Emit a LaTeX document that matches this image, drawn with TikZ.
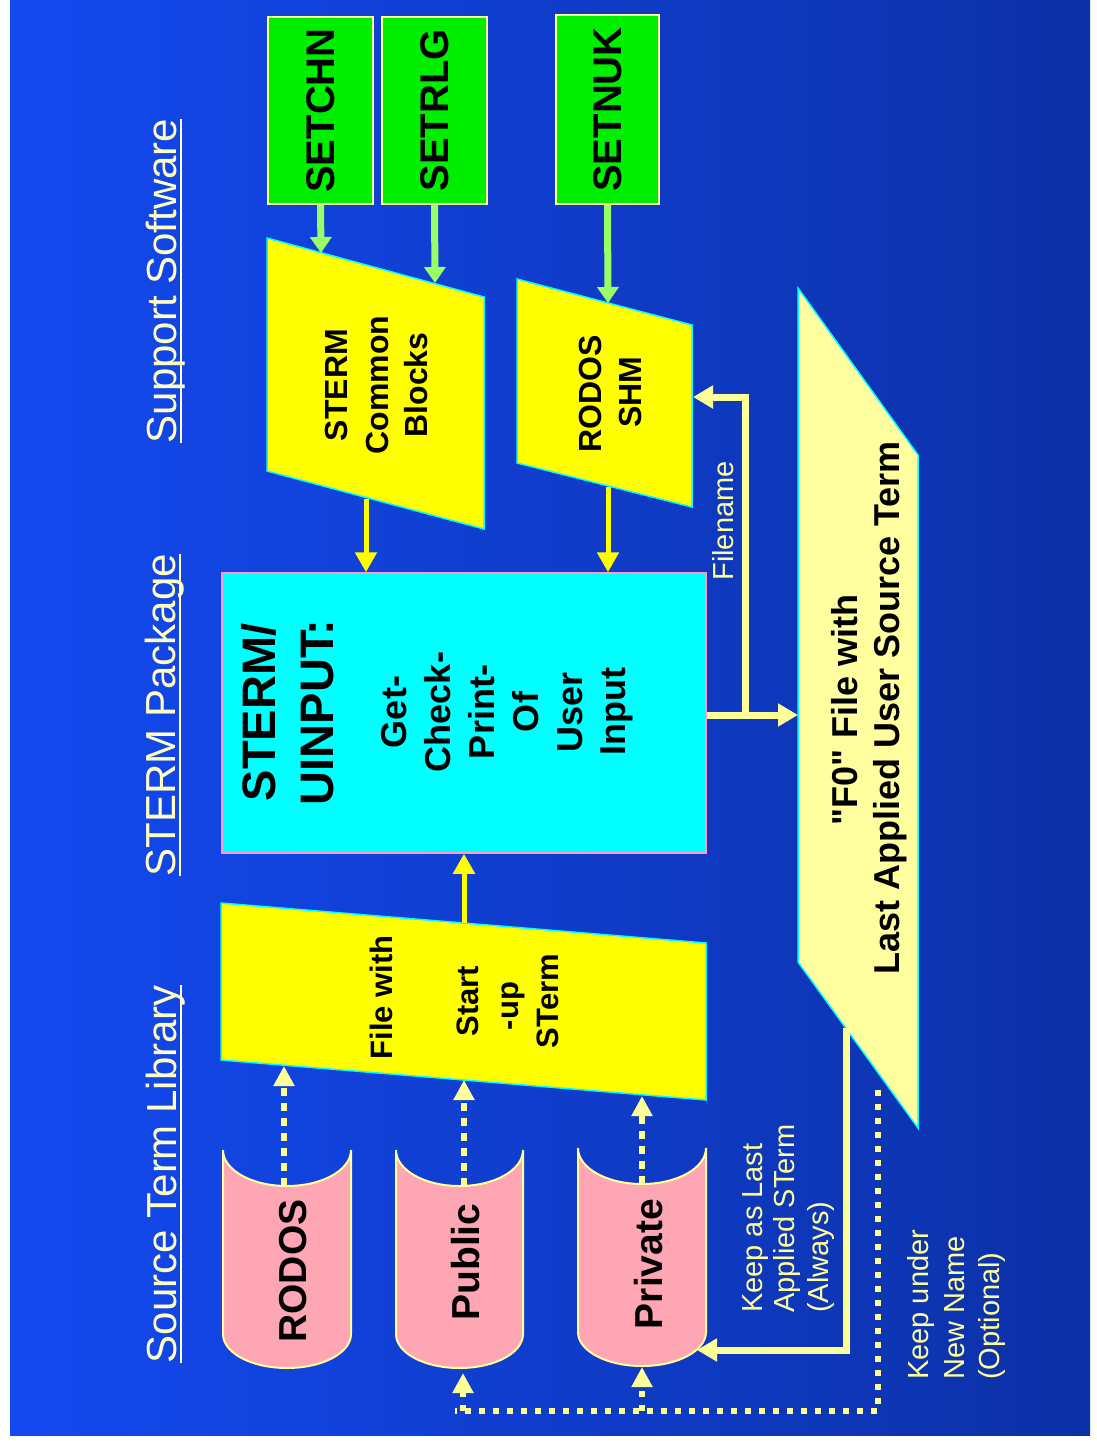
\documentclass[tikz,border=0pt]{standalone}
\usepackage{fontspec}
\setmainfont{Liberation Sans}
\usetikzlibrary{arrows.meta}
\definecolor{bgL}{HTML}{1349F0}
\definecolor{bgR}{HTML}{0C30A6}
\definecolor{gfill}{HTML}{00EE00}
\definecolor{garr}{HTML}{99FF66}
\definecolor{yfill}{HTML}{FFFF00}
\definecolor{cfill}{HTML}{00FFFF}
\definecolor{pfill}{HTML}{FFA6B4}
\definecolor{ly}{HTML}{FFFF99}
\definecolor{lyfill}{HTML}{FFFFA0}
\definecolor{hdrc}{HTML}{FFFFC4}
\definecolor{pinkedge}{HTML}{FF99CC}
\newcommand\myfs[1]{\fontsize{#1}{#1}\selectfont}
\begin{document}
\begin{tikzpicture}[x=1pt,y=-1pt,
  rt/.style={rotate=90,anchor=base,inner sep=0pt},
  rtl/.style={rotate=90,anchor=base west,inner sep=0pt},
  hdr/.style={rt,text=hdrc,font=\myfs{42}},
  lbl/.style={rtl,text=ly,font=\myfs{29}},
  blk/.style={rt,text=black,font=\bfseries\myfs{#1}},
  gbox/.style={draw=ly,line width=1.5pt,fill=gfill,inner sep=0pt,font=\bfseries\myfs{40}},
  yshape/.style={fill=yfill,draw=cfill,line width=1.5pt},
  cyl/.style={fill=pfill,draw=ly,line width=2pt},
  garrow/.style={draw=garr,line width=7pt,-{Triangle[width=21pt,length=16pt]}},
  yarrow/.style={draw=yfill,line width=5pt,-{Triangle[width=21pt,length=20pt]}},
  lyline/.style={draw=ly,line width=7pt},
  lyarrow/.style={lyline,-{Triangle[width=22pt,length=20pt]}},
  dasharrow/.style={draw=ly,line width=6pt,dash pattern=on 8pt off 7pt,-{Triangle[width=20pt,length=20pt]}},
  dotline/.style={draw=ly,line width=6pt,dash pattern=on 6pt off 8pt},
  dotarrow/.style={dotline,-{Triangle[width=20pt,length=20pt]}}
]
\useasboundingbox (0,0) rectangle (1097,1441);
\fill[white] (0,0) rectangle (1097,1441);
\shade[left color=bgL,right color=bgR] (10,0) rectangle (1090,1435);

% headers
\node[hdr] (h1) at (176,281) {Support Software};
\node[hdr] (h2) at (175,715) {STERM Package};
\node[hdr] (h3) at (176,1174) {Source Term Library};
\foreach \h in {h1,h2,h3}
  \draw[hdrc,line width=2pt] ([xshift=5pt]\h.base west) -- ([xshift=5pt]\h.base east);

% green boxes
\node[gbox,minimum width=105pt,minimum height=187pt] (setchn) at (320.5,110.5) {\rotatebox{90}{SETCHN}};
\node[gbox,minimum width=105pt,minimum height=187pt] (setrlg) at (434.5,110.5) {\rotatebox{90}{SETRLG}};
\node[gbox,minimum width=103pt,minimum height=189pt] (setnuk) at (607.5,109.5) {\rotatebox{90}{SETNUK}};

% STERM Common Blocks
\filldraw[yshape] (267,238) -- (484,297) -- (484,529) -- (267,471) -- cycle;
\node[blk=32] (cb1) at (347,385) {STERM};
\node[blk=32] (cb2) at (388,385) {Common};
\node[blk=32] (cb3) at (427,385) {Blocks};
\coordinate (cbA) at (321,253);
\coordinate (cbB) at (435,283);
\coordinate (cbOut) at (366,499);

% RODOS SHM
\filldraw[yshape] (517,279) -- (692,325) -- (692,507) -- (517,463) -- cycle;
\node[blk=32] (sh1) at (601,394) {RODOS};
\node[blk=32] (sh2) at (641,392) {SHM};
\coordinate (shA) at (608,303);
\coordinate (shOut) at (608,487);
\coordinate (shR) at (693,397);

% green arrows
\draw[garrow] (setchn.south) -- (cbA);
\draw[garrow] (setrlg.south) -- (cbB);
\draw[garrow] (setnuk.south) -- (shA);

% UINPUT box
\node[fill=cfill,draw=pinkedge,line width=1.5pt,minimum width=484pt,minimum height=280pt,inner sep=0pt] (uinput) at (464,713) {};
\node[blk=47] (u1) at (275,712.5) {STERM/};
\node[blk=47] (u2) at (333,712.5) {UINPUT:};
\node[blk=36] (u3) at (406,712) {Get-};
\node[blk=36] (u4) at (450,712) {Check-};
\node[blk=36] (u5) at (494,712) {Print-};
\node[blk=36] (u6) at (538,712) {Of};
\node[blk=36] (u7) at (582,712) {User};
\node[blk=36] (u8) at (625,712) {Input};

\draw[yarrow] (cbOut) -- (cbOut |- uinput.north);
\draw[yarrow] (shOut) -- (shOut |- uinput.north);

% File with start-up STerm
\filldraw[yshape] (221,903) -- (706,943) -- (706,1100) -- (221,1060) -- cycle;
\node[blk=31] (fs1) at (392,997.5) {File with};
\node[blk=31] (fs2) at (478,1001) {Start};
\node[blk=31] (fs3) at (518,1006) {-up};
\node[blk=31] (fs4) at (558,1001) {STerm};
\coordinate (fsT) at (464,923);
\coordinate (fsB1) at (284,1066);
\coordinate (fsB2) at (464,1080);
\coordinate (fsB3) at (642,1096);
\draw[yarrow] (fsT) -- (fsT |- uinput.south);

% F0 file
\filldraw[fill=lyfill,draw=cfill,line width=1.5pt] (798,288) -- (918,455) -- (918,1128) -- (798,962) -- cycle;
\node[blk=36] (f1) at (857,710) {\textquotedbl F0\textquotedbl{} File with};
\node[blk=36] (f2) at (899,708) {Last Applied User Source Term};
\coordinate (f0L) at (798,715);
\coordinate (fj) at (745,715);
\coordinate (f0B1) at (846,1028);
\coordinate (f0B2) at (878,1090);

% Filename connectors
\draw[lyarrow] (fj -| uinput.east) -- (f0L);
\draw[lyarrow] (fj) |- (shR);
\node[rt,text=ly,font=\myfs{29}] (fn) at (733,521) {Filename};

% cylinders
\filldraw[cyl] (223,1150) .. controls (223,1170) and (251.7,1186) .. (287,1186)
  .. controls (322.3,1186) and (351,1170) .. (351,1150) -- (351,1334)
  .. controls (351,1353) and (322.3,1368) .. (287,1368)
  .. controls (251.7,1368) and (223,1353) .. (223,1334) -- cycle;
\filldraw[cyl] (396,1150) .. controls (396,1170) and (424.5,1186) .. (459.5,1186)
  .. controls (494.5,1186) and (523,1170) .. (523,1150) -- (523,1334)
  .. controls (523,1353) and (494.5,1368) .. (459.5,1368)
  .. controls (424.5,1368) and (396,1353) .. (396,1334) -- cycle;
\filldraw[cyl] (578,1148) .. controls (578,1168) and (606.7,1184) .. (642,1184)
  .. controls (677.3,1184) and (706,1168) .. (706,1148) -- (706,1332)
  .. controls (706,1351) and (677.3,1366) .. (642,1366)
  .. controls (606.7,1366) and (578,1351) .. (578,1332) -- cycle;
\node[blk=39] (c1) at (306,1271) {RODOS};
\node[blk=39] (c2) at (479,1262) {Public};
\node[blk=39] (c3) at (662,1264) {Private};
\coordinate (rodT) at (284,1186);
\coordinate (pubT) at (464,1186);
\coordinate (prT) at (642,1184);
\coordinate (pubB) at (463,1373);
\coordinate (prB) at (642,1367);
\coordinate (prR) at (697,1350);

\draw[dasharrow] (rodT) -- (fsB1);
\draw[dasharrow] (pubT) -- (fsB2);
\draw[dasharrow] (prT) -- (fsB3);

% keep connectors
\draw[lyarrow] (f0B1) |- (prR);
\coordinate (dl) at (455,1411);
\draw[dotline] (f0B2) |- (dl);
\draw[dotarrow] (pubB |- dl) -- (pubB);
\draw[dotarrow] (prB |- dl) -- (prB);

% labels
\node[lbl] (k1) at (762,1313) {Keep as Last};
\node[lbl] (k2) at (794,1313) {Applied STerm};
\node[lbl] (k3) at (828,1313) {(Always)};
\node[lbl] (k4) at (928,1380) {Keep under};
\node[lbl] (k5) at (964,1380) {New Name};
\node[lbl] (k6) at (999,1380) {(Optional)};
\end{tikzpicture}
\end{document}
